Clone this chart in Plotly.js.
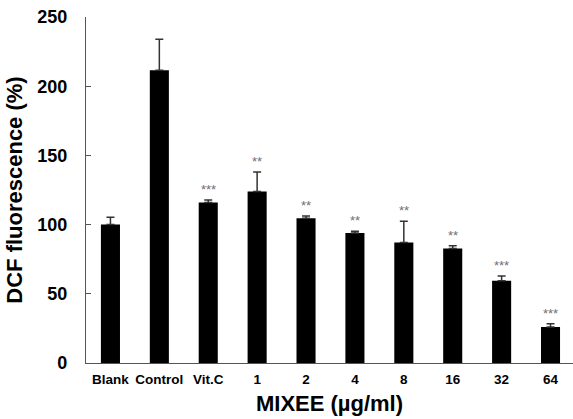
<!DOCTYPE html>
<html>
<head>
<meta charset="utf-8">
<script src="https://cdn.plot.ly/plotly-3.0.1.min.js"></script>
<style>html,body{margin:0;padding:0;overflow:hidden;background:#fff;}</style>
</head>
<body>
<div id="chart" style="width:573px;height:419px;"></div>
<script>
const categories = ["Blank", "Control", "Vit.C", "1", "2", "4", "8", "16", "32", "64"];
const values = [100, 211.5, 116, 124, 104.5, 94, 87, 82.8, 59.5, 26];
const errors = [5.3, 22.4, 1.7, 14, 1.7, 1.2, 15.4, 2, 3.4, 2.4];
const stars = ["", "", "***", "**", "**", "**", "**", "**", "***", "***"];

const FONT = "Liberation Sans, Arial, sans-serif";

const trace = {
  type: "bar",
  x: categories,
  y: values,
  width: 0.39,
  marker: {color: "#000000", line: {width: 0}},
  error_y: {
    type: "data",
    symmetric: false,
    array: errors,
    arrayminus: errors.map(() => 0),
    color: "#333333",
    thickness: 1.5,
    width: 4
  },
  hoverinfo: "none"
};

const annotations = [];
categories.forEach((c, i) => {
  if (stars[i]) {
    annotations.push({
      x: i, y: values[i] + errors[i],
      xref: "x", yref: "y",
      text: stars[i], showarrow: false,
      yanchor: "bottom", yshift: 1,
      font: {family: FONT, size: 13, color: "#707070"}
    });
  }
});

const layout = {
  width: 573, height: 419,
  margin: {l: 86, r: 0, t: 17, b: 56},
  paper_bgcolor: "#ffffff",
  plot_bgcolor: "#ffffff",
  showlegend: false,
  bargap: 0.6,
  xaxis: {
    type: "category",
    range: [-0.5, 9.46],
    showline: true, linecolor: "#555555", linewidth: 1.2,
    ticks: "", showgrid: false, zeroline: false,
    ticklabelstandoff: 4,
    tickfont: {family: FONT, size: 13.5, color: "#000000", weight: "bold"},
    title: {text: "<b>MIXEE (µg/ml)</b>", font: {family: FONT, size: 22, color: "#000000"}, standoff: 9}
  },
  yaxis: {
    range: [0, 250],
    tickvals: [0, 50, 100, 150, 200, 250],
    showline: true, linecolor: "#555555", linewidth: 1.2,
    ticks: "inside", ticklen: 5, tickcolor: "#555555",
    ticklabelstandoff: 14,
    showgrid: false, zeroline: false,
    tickfont: {family: FONT, size: 18, color: "#000000", weight: "bold"},
    title: {text: "<b>DCF fluorescence (%)</b>", font: {family: FONT, size: 22, color: "#000000"}, standoff: 8}
  },
  annotations: annotations
};

Plotly.newPlot("chart", [trace], layout, {displayModeBar: false, staticPlot: true});
</script>
</body>
</html>
